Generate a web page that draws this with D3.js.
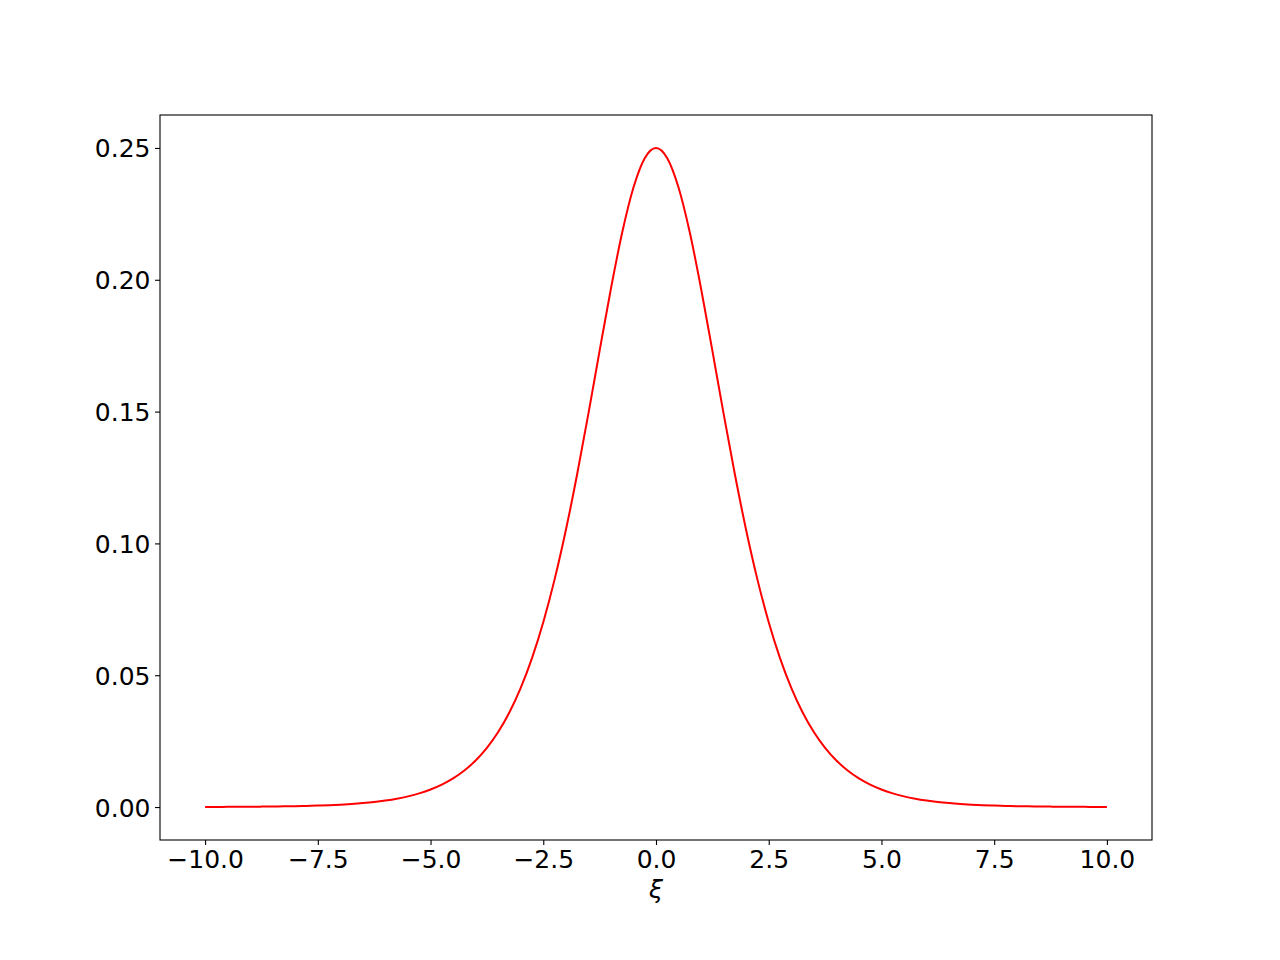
<!DOCTYPE html>
<html>
<head>
<meta charset="utf-8">
<script src="https://cdn.jsdelivr.net/npm/d3@7"></script>
<style>
  body { margin: 0; background: #fff; }
  svg { display: block; font-family: "DejaVu Sans", sans-serif; }
</style>
</head>
<body>
<div id="chart"></div>
<script>
// values
const xValues = [
  -10, -9.75, -9.5, -9.25, -9, -8.75, -8.5, -8.25, -8, -7.75, -7.5, -7.25, -7, -6.75, -6.5, -6.25,
  -6, -5.75, -5.5, -5.25, -5, -4.75, -4.5, -4.25, -4, -3.75, -3.5, -3.25, -3, -2.75, -2.5, -2.25,
  -2, -1.75, -1.5, -1.25, -1, -0.75, -0.5, -0.25, 0, 0.25, 0.5, 0.75, 1, 1.25, 1.5, 1.75,
  2, 2.25, 2.5, 2.75, 3, 3.25, 3.5, 3.75, 4, 4.25, 4.5, 4.75, 5, 5.25, 5.5, 5.75,
  6, 6.25, 6.5, 6.75, 7, 7.25, 7.5, 7.75, 8, 8.25, 8.5, 8.75, 9, 9.25, 9.5, 9.75, 10
];
const yValues = [
  0.00005, 0.00006, 0.00007, 0.0001, 0.00012, 0.00016, 0.0002, 0.00026, 0.00034, 0.00043, 0.00055, 0.00071, 0.00091, 0.00117, 0.0015, 0.00192,
  0.00247, 0.00316, 0.00405, 0.00519, 0.00665, 0.00851, 0.01087, 0.01386, 0.01767, 0.02245, 0.02845, 0.03594, 0.04518, 0.05648, 0.07011, 0.08626,
  0.10499, 0.12613, 0.14915, 0.17311, 0.19661, 0.2179, 0.235, 0.24613, 0.25, 0.24613, 0.235, 0.2179, 0.19661, 0.17311, 0.14915, 0.12613,
  0.10499, 0.08626, 0.07011, 0.05648, 0.04518, 0.03594, 0.02845, 0.02245, 0.01767, 0.01386, 0.01087, 0.00851, 0.00665, 0.00519, 0.00405, 0.00316,
  0.00247, 0.00192, 0.0015, 0.00117, 0.00091, 0.00071, 0.00055, 0.00043, 0.00034, 0.00026, 0.0002, 0.00016, 0.00012, 0.0001, 0.00007, 0.00006, 0.00005
];
const xTicks = [-10, -7.5, -5, -2.5, 0, 2.5, 5, 7.5, 10];
const yTicks = [0, 0.05, 0.1, 0.15, 0.2, 0.25];
const xLabel = "ξ";

let width = 1280;
let height = 960;
let margin = { top: 115, right: 128, bottom: 120, left: 160 };

let x = d3.scaleLinear().domain([-11, 11]).range([margin.left, width - margin.right]);
let y = d3.scaleLinear().domain([-0.0125, 0.2625]).range([height - margin.bottom, margin.top]);

let fmt = d3.format(".1f");
let yfmt = d3.format(".2f");
let minus = s => s.replace("-", "\u2212");

let svg = d3.select("#chart")
  .append("svg")
  .attr("width", width)
  .attr("height", height);

let points = xValues.map((v, i) => [v, yValues[i]]);

// curve
svg.append("path")
  .datum(points)
  .attr("fill", "none")
  .attr("stroke", "#ff0000")
  .attr("stroke-width", 2)
  .attr("stroke-linejoin", "round")
  .attr("d", d3.line().x(d => x(d[0])).y(d => y(d[1])).curve(d3.curveMonotoneX));

// x axis
svg.append("g")
  .attr("transform", "translate(0," + (height - margin.bottom) + ")")
  .call(d3.axisBottom(x).tickValues(xTicks).tickFormat(d => minus(fmt(d))).tickSizeInner(5).tickSizeOuter(0).tickPadding(8))
  .call(g => g.select(".domain").remove())
  .call(g => g.selectAll(".tick line").attr("stroke", "#000").attr("stroke-width", 1.1))
  .call(g => g.selectAll(".tick text")
    .attr("fill", "#000")
    .attr("font-size", 25)
    .attr("font-family", "DejaVu Sans")
    .attr("dy", null)
    .attr("y", 28));

// y axis
svg.append("g")
  .attr("transform", "translate(" + margin.left + ",0)")
  .call(d3.axisLeft(y).tickValues(yTicks).tickFormat(yfmt).tickSizeInner(5).tickSizeOuter(0))
  .call(g => g.select(".domain").remove())
  .call(g => g.selectAll(".tick line").attr("stroke", "#000").attr("stroke-width", 1.1))
  .call(g => g.selectAll(".tick text")
    .attr("fill", "#000")
    .attr("font-size", 25)
    .attr("font-family", "DejaVu Sans")
    .attr("x", -9.5)
    .attr("dy", "0.36em"));

// frame
svg.append("rect")
  .attr("x", margin.left)
  .attr("y", margin.top)
  .attr("width", width - margin.left - margin.right)
  .attr("height", height - margin.top - margin.bottom)
  .attr("fill", "none")
  .attr("stroke", "#000")
  .attr("stroke-width", 1.1);

// x label
svg.append("text")
  .attr("x", (margin.left + width - margin.right) / 2)
  .attr("y", 898)
  .attr("text-anchor", "middle")
  .attr("font-size", 25)
  .attr("font-style", "italic")
  .attr("font-family", "DejaVu Sans")
  .text(xLabel);
</script>
</body>
</html>
